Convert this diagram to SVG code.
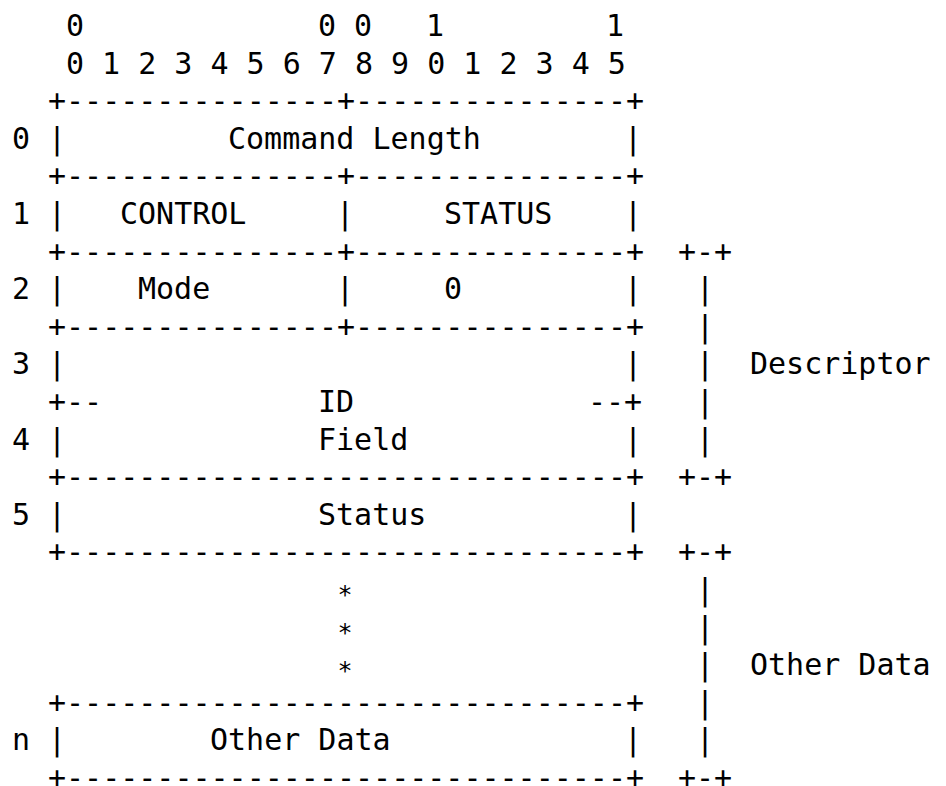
<svg xmlns="http://www.w3.org/2000/svg" width="946" height="786" viewBox="0 0 946 786">
<style>
  text { font-family: "DejaVu Sans Mono", "Liberation Mono", monospace; font-size: 30px; fill: #000; }
  .star { font-size: 25px; text-anchor: middle; }
</style>
<rect x="0" y="0" width="946" height="786" fill="#fff"/>
<g id="bit-ruler">
  <text x="66" y="36">0</text>
  <text x="318" y="36">0 0</text>
  <text x="426" y="36">1</text>
  <text x="606" y="36">1</text>
  <text x="66" y="73.6">0 1 2 3 4 5 6 7 8 9 0 1 2 3 4 5</text>
</g>
<g id="connectors">
  <text x="48" y="111.2">+---------------+---------------+</text>
  <text x="48" y="186.4">+---------------+---------------+</text>
  <text x="48" y="261.6">+---------------+---------------+</text>
  <text x="48" y="336.8">+---------------+---------------+</text>
  <text x="48" y="412">+--</text>
  <text x="588" y="412">--+</text>
  <text x="48" y="487.2">+-------------------------------+</text>
  <text x="48" y="562.4">+-------------------------------+</text>
  <text x="48" y="712.8">+-------------------------------+</text>
  <text x="48" y="788">+-------------------------------+</text>
</g>
<g id="row-0">
  <text x="12" y="148.8">0</text>
  <text x="48" y="148.8">|</text>
  <text x="228" y="148.8">Command Length</text>
  <text x="624" y="148.8">|</text>
</g>
<g id="row-1">
  <text x="12" y="224">1</text>
  <text x="48" y="224">|</text>
  <text x="120" y="224">CONTROL</text>
  <text x="336" y="224">|</text>
  <text x="444" y="224">STATUS</text>
  <text x="624" y="224">|</text>
</g>
<g id="row-2">
  <text x="12" y="299.2">2</text>
  <text x="48" y="299.2">|</text>
  <text x="138" y="299.2">Mode</text>
  <text x="336" y="299.2">|</text>
  <text x="444" y="299.2">0</text>
  <text x="624" y="299.2">|</text>
</g>
<g id="row-3-4">
  <text x="12" y="374.4">3</text>
  <text x="48" y="374.4">|</text>
  <text x="624" y="374.4">|</text>
  <text x="318" y="412">ID</text>
  <text x="12" y="449.6">4</text>
  <text x="48" y="449.6">|</text>
  <text x="318" y="449.6">Field</text>
  <text x="624" y="449.6">|</text>
</g>
<g id="row-5">
  <text x="12" y="524.8">5</text>
  <text x="48" y="524.8">|</text>
  <text x="318" y="524.8">Status</text>
  <text x="624" y="524.8">|</text>
</g>
<g id="ellipsis">
  <text class="star" x="345" y="603">*</text>
  <text class="star" x="345" y="641">*</text>
  <text class="star" x="345" y="679">*</text>
</g>
<g id="row-n">
  <text x="12" y="750.4">n</text>
  <text x="48" y="750.4">|</text>
  <text x="210" y="750.4">Other Data</text>
  <text x="624" y="750.4">|</text>
</g>
<g id="descriptor-brace">
  <text x="678" y="261.6">+-+</text>
  <text x="696" y="299.2">|</text>
  <text x="696" y="336.8">|</text>
  <text x="696" y="374.4">|</text>
  <text x="750" y="374.4">Descriptor</text>
  <text x="696" y="412">|</text>
  <text x="696" y="449.6">|</text>
  <text x="678" y="487.2">+-+</text>
</g>
<g id="other-data-brace">
  <text x="678" y="562.4">+-+</text>
  <text x="696" y="600">|</text>
  <text x="696" y="637.6">|</text>
  <text x="696" y="675.2">|</text>
  <text x="750" y="675.2">Other Data</text>
  <text x="696" y="712.8">|</text>
  <text x="696" y="750.4">|</text>
  <text x="678" y="788">+-+</text>
</g>
</svg>
